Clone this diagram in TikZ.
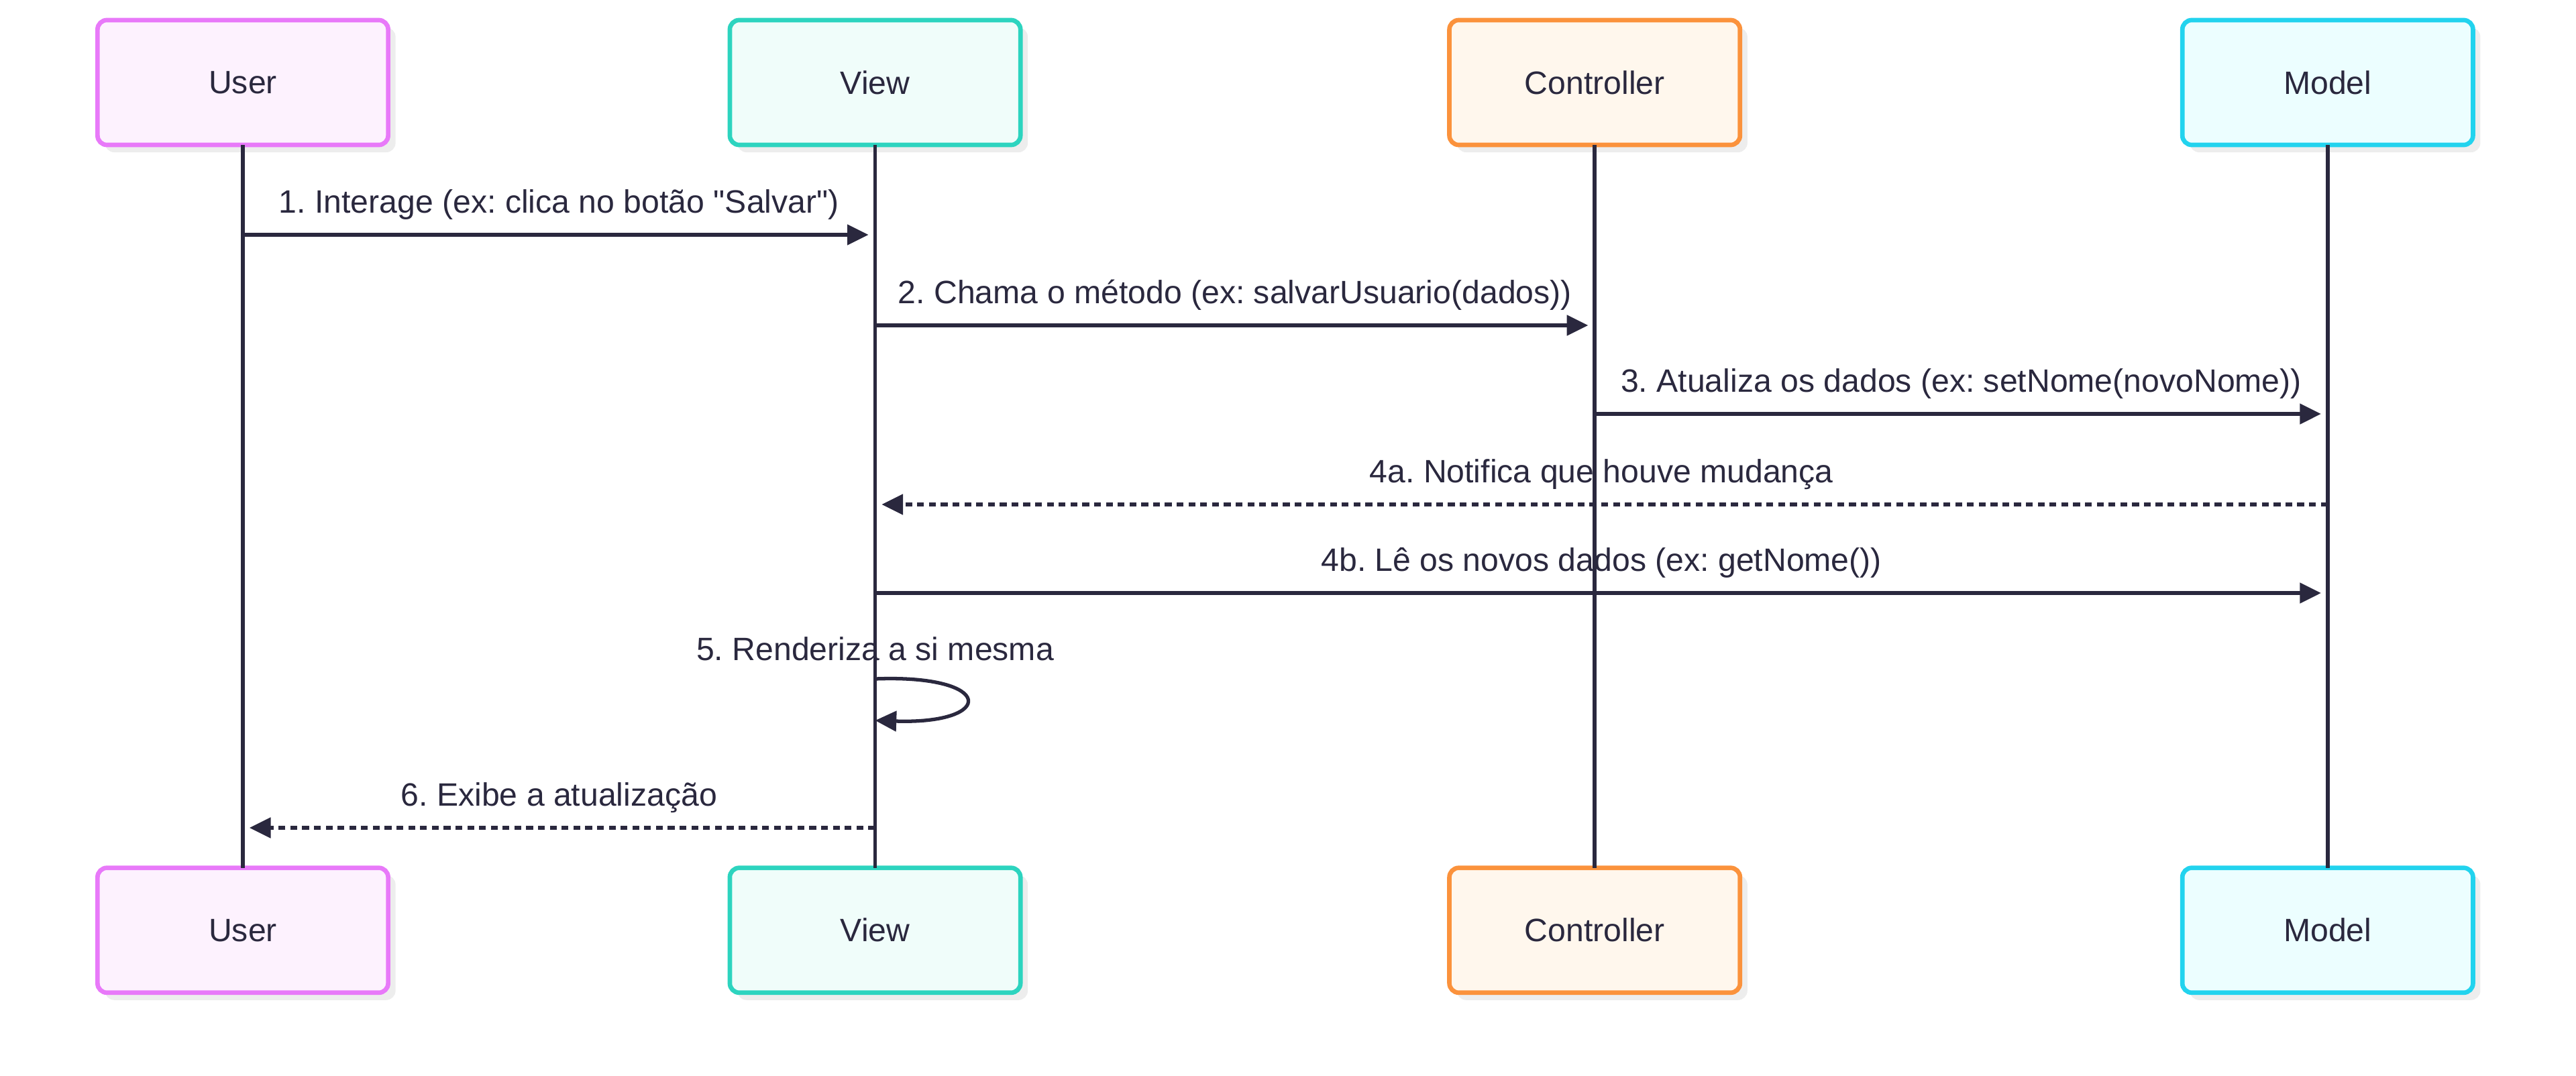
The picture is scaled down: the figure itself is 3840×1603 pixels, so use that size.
\documentclass[tikz,border=0pt]{standalone}
\usepackage{fontspec}
\newfontfamily\diagfont{Liberation Sans}
\usepackage{tikz}
\usetikzlibrary{arrows.meta, positioning, shadows}
\definecolor{inkdark}{RGB}{42,40,62}
\definecolor{userline}{RGB}{232,121,249}
\definecolor{userfill}{RGB}{253,242,254}
\definecolor{viewline}{RGB}{45,212,191}
\definecolor{viewfill}{RGB}{240,253,250}
\definecolor{ctrlline}{RGB}{251,146,60}
\definecolor{ctrlfill}{RGB}{255,247,237}
\definecolor{modelline}{RGB}{34,211,238}
\definecolor{modelfill}{RGB}{236,254,255}
\frenchspacing

\begin{document}
\begin{tikzpicture}[
  x=0.01cm, y=-0.01cm,
  actorbox/.style={rectangle, rounded corners=4pt, line width=1.9pt, outer sep=0pt,
                   minimum width=4.33cm, minimum height=1.86cm, text=inkdark,
                   font=\diagfont\fontsize{13.7pt}{16pt}\selectfont,
                   general shadow={fill=black!7, shadow xshift=0.11cm, shadow yshift=-0.11cm}},
  lifeline/.style={line width=1.6pt, inkdark},
  call/.style={-{Triangle[length=9pt, width=8.5pt]}, line width=1.5pt, inkdark, shorten >=2.8pt},
  reply/.style={call, dash pattern=on 2.9pt off 2.1pt},
  msgtext/.style={anchor=base, yshift=0.32cm, text=inkdark, inner sep=0pt,
                  font=\diagfont\fontsize{13.7pt}{16pt}\selectfont}
]
\useasboundingbox (0,0) rectangle (3840,1603);

% participants, top row
\node[actorbox, draw=userline, fill=userfill] (user) at (362,123) {User};
\node[actorbox, draw=viewline, fill=viewfill, right=5.09cm of user] (view) {View};
\node[actorbox, draw=ctrlline, fill=ctrlfill, right=6.39cm of view] (ctrl) {Controller};
\node[actorbox, draw=modelline, fill=modelfill, right=6.59cm of ctrl] (model) {Model};

% participants, bottom row
\node[actorbox, draw=userline, fill=userfill, below=10.77cm of user] (userB) {User};
\node[actorbox, draw=viewline, fill=viewfill, below=10.77cm of view] (viewB) {View};
\node[actorbox, draw=ctrlline, fill=ctrlfill, below=10.77cm of ctrl] (ctrlB) {Controller};
\node[actorbox, draw=modelline, fill=modelfill, below=10.77cm of model] (modelB) {Model};

% lifelines
\draw[lifeline] (user) -- (userB);
\draw[lifeline] (view) -- (viewB);
\draw[lifeline] (ctrl) -- (ctrlB);
\draw[lifeline] (model) -- (modelB);

% message points on the lifelines
\coordinate (u1) at (user |- 0,350);
\coordinate (v1) at (view |- 0,350);
\coordinate (v2) at (view |- 0,485);
\coordinate (c2) at (ctrl |- 0,485);
\coordinate (c3) at (ctrl |- 0,617);
\coordinate (m3) at (model |- 0,617);
\coordinate (m4) at (model |- 0,752);
\coordinate (v4) at (view |- 0,752);
\coordinate (v5) at (view |- 0,884);
\coordinate (m5) at (model |- 0,884);
\coordinate (loopA) at (view |- 0,1012);
\coordinate (loopB) at (view |- 0,1074);
\coordinate (v6) at (view |- 0,1234);
\coordinate (u6) at (user |- 0,1234);

% messages
\draw[call] (u1) -- node[msgtext] (t1) {1. Interage (ex: clica no botão "Salvar")} (v1);
\draw[call] (v2) -- node[msgtext] (t2) {2. Chama o método (ex: salvarUsuario(dados))} (c2);
\draw[call] (c3) -- node[msgtext] (t3) {3. Atualiza os dados (ex: setNome(novoNome))} (m3);
\draw[reply] (m4) -- node[msgtext] (t4a) {4a. Notifica que houve mudança} (v4);
\draw[call] (v5) -- node[msgtext] (t4b) {4b. Lê os novos dados (ex: getNome())} (m5);
\node[msgtext, yshift=-0.05cm] (t5) at (loopA) {5. Renderiza a si mesma};
\draw[call, shorten >=0pt] (loopA) .. controls +(180,-7) and +(180,6) .. (loopB);
\draw[reply] (v6) -- node[msgtext] (t6) {6. Exibe a atualização} (u6);
\end{tikzpicture}
\end{document}
